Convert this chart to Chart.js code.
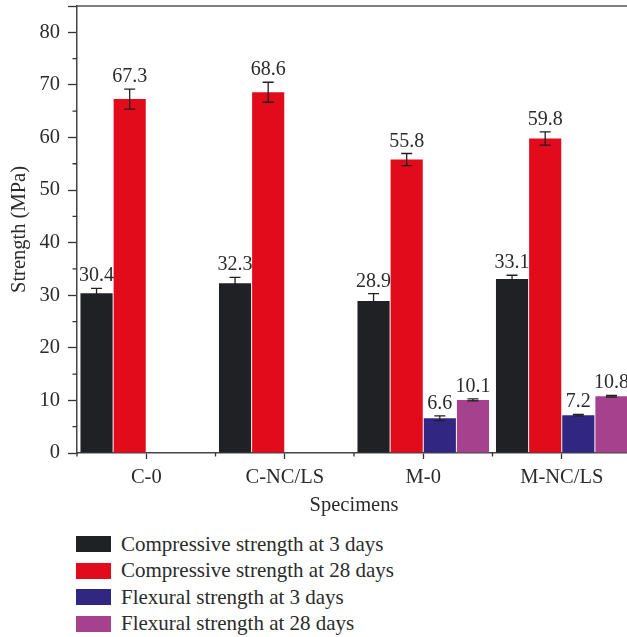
<!DOCTYPE html>
<html>
<head>
<meta charset="utf-8">
<script src="https://cdn.jsdelivr.net/npm/chart.js@4"></script>
<style>
  body { margin: 0; background: #fff; overflow: hidden; width: 627px; height: 637px; position: relative; }
  #wrap { position: absolute; left: 0; top: 0; width: 640px; height: 525px; }
  #legend { position: absolute; left: 76px; top: 536px; font-family: 'Liberation Serif', serif; font-size: 21px; color: #2b2b2b; }
  .lg-row { display: flex; align-items: center; height: 16px; margin-bottom: 10.5px; }
  .lg-box { width: 35px; height: 16px; margin-right: 10px; }
</style>
</head>
<body>
<div id="wrap"><canvas id="strengthChart" width="640" height="525"></canvas></div>
<div id="legend"></div>
<script>
// ── data ──
const categories = ['C-0', 'C-NC/LS', 'M-0', 'M-NC/LS'];
const seriesNames = [
  'Compressive strength at 3 days',
  'Compressive strength at 28 days',
  'Flexural strength at 3 days',
  'Flexural strength at 28 days',
];
const comp3  = [30.4, 32.3, 28.9, 33.1];
const comp28 = [67.3, 68.6, 55.8, 59.8];
const flex3  = [null, null, 6.6, 7.2];
const flex28 = [null, null, 10.1, 10.8];

const comp3Err  = [0.9, 1.1, 1.4, 0.7];
const comp28Err = [1.9, 1.9, 1.15, 1.25];
const flex3Err  = [null, null, 0.45, 0.15];
const flex28Err = [null, null, 0.2, 0.15];

const yTicks = [0, 10, 20, 30, 40, 50, 60, 70, 80];
const yMinorTicks = [5, 15, 25, 35, 45, 55, 65, 75];

const colors = ['#202124', '#e20b1c', '#312783', '#a5418d'];
const FONT = 'Liberation Serif';
const INK  = '#2b2b2b';

const values = [comp3, comp28, flex3, flex28];
const errors = [comp3Err, comp28Err, flex3Err, flex28Err];

// ── error bars, value labels, frame, minor ticks ──
const extrasPlugin = {
  id: 'extras',
  afterDatasetsDraw(chart) {
    const { ctx, chartArea, scales } = chart;
    const y = scales.y;
    ctx.save();
    values.forEach((series, i) => {
      const meta = chart.getDatasetMeta(i);
      series.forEach((v, j) => {
        if (v == null) return;
        const bar = meta.data[j];
        const e = errors[i][j] || 0;
        const top = y.getPixelForValue(v + e);
        const bot = y.getPixelForValue(v - e);
        ctx.strokeStyle = '#231f20';
        ctx.lineWidth = 1.3;
        ctx.beginPath();
        ctx.moveTo(bar.x, top); ctx.lineTo(bar.x, bot);
        ctx.moveTo(bar.x - 5.5, top); ctx.lineTo(bar.x + 5.5, top);
        ctx.moveTo(bar.x - 5.5, bot); ctx.lineTo(bar.x + 5.5, bot);
        ctx.stroke();

        ctx.fillStyle = INK;
        ctx.font = `20px "${FONT}"`;
        ctx.textAlign = 'center';
        ctx.textBaseline = 'alphabetic';
        ctx.fillText(v.toFixed(1), bar.x, top - 7);
      });
    });

    // top frame line
    ctx.strokeStyle = '#555';
    ctx.lineWidth = 1.5;
    ctx.beginPath();
    ctx.moveTo(chartArea.left, chartArea.top);
    ctx.lineTo(chartArea.right, chartArea.top);
    ctx.stroke();

    ctx.strokeStyle = '#333';
    ctx.lineWidth = 1.3;
    ctx.beginPath();
    // minor x ticks at category boundaries
    const x = scales.x;
    const half = (x.getPixelForValue(1) - x.getPixelForValue(0)) / 2;
    for (let k = 0; k <= categories.length; k++) {
      const px = x.getPixelForValue(0) - half + k * 2 * half;
      ctx.moveTo(px, chartArea.bottom);
      ctx.lineTo(px, chartArea.bottom + 3.5);
    }
    // minor y ticks
    yMinorTicks.forEach(v => {
      const py = y.getPixelForValue(v);
      ctx.moveTo(chartArea.left, py);
      ctx.lineTo(chartArea.left - 4.5, py);
    });
    ctx.stroke();
    ctx.restore();
  },
};

new Chart(document.getElementById('strengthChart'), {
  type: 'bar',
  data: {
    labels: categories,
    datasets: values.map((data, i) => ({
      label: seriesNames[i],
      data,
      backgroundColor: colors[i],
      borderWidth: 0,
      categoryPercentage: 0.957,
      barPercentage: 0.97,
    })),
  },
  options: {
    responsive: false,
    animation: false,
    layout: { padding: { left: 0, top: 6, right: 9, bottom: 0 } },
    plugins: {
      legend: { display: false },
      tooltip: { enabled: false },
    },
    scales: {
      x: {
        grid: {
          offset: false,
          drawOnChartArea: false,
          tickLength: 6,
          tickColor: '#333',
          tickWidth: 1.3,
        },
        border: { color: '#444', width: 1.5 },
        ticks: {
          font: { family: FONT, size: 20.5 },
          color: INK,
          padding: 6,
          maxRotation: 0,
        },
        title: {
          display: true,
          text: 'Specimens',
          font: { family: FONT, size: 20.5 },
          color: INK,
          padding: { top: 0, bottom: 7 },
        },
        afterFit: s => {
          s.height = 72;
          s.paddingLeft = 0;
          s.paddingRight = 0;
        },
      },
      y: {
        min: 0,
        max: 85,
        grid: {
          drawOnChartArea: false,
          tickLength: 9,
          tickColor: '#333',
          tickWidth: 1.3,
        },
        border: { color: '#444', width: 1.5 },
        ticks: {
          stepSize: 10,
          font: { family: FONT, size: 20.5 },
          color: INK,
          padding: 8,
          callback: v => (yTicks.includes(v) ? v : ''),
        },
        title: {
          display: true,
          text: 'Strength (MPa)',
          font: { family: FONT, size: 20.5 },
          color: INK,
          padding: { top: 7, bottom: 0 },
        },
        afterFit: s => {
          s.width = 77;
          s.paddingTop = 0;
          s.paddingBottom = 0;
        },
      },
    },
  },
  plugins: [extrasPlugin],
});

// ── legend ──
const legend = document.getElementById('legend');
seriesNames.forEach((name, i) => {
  const row = document.createElement('div');
  row.className = 'lg-row';
  row.innerHTML = `<span class="lg-box" style="background:${colors[i]}"></span><span>${name}</span>`;
  legend.appendChild(row);
});
</script>
</body>
</html>
